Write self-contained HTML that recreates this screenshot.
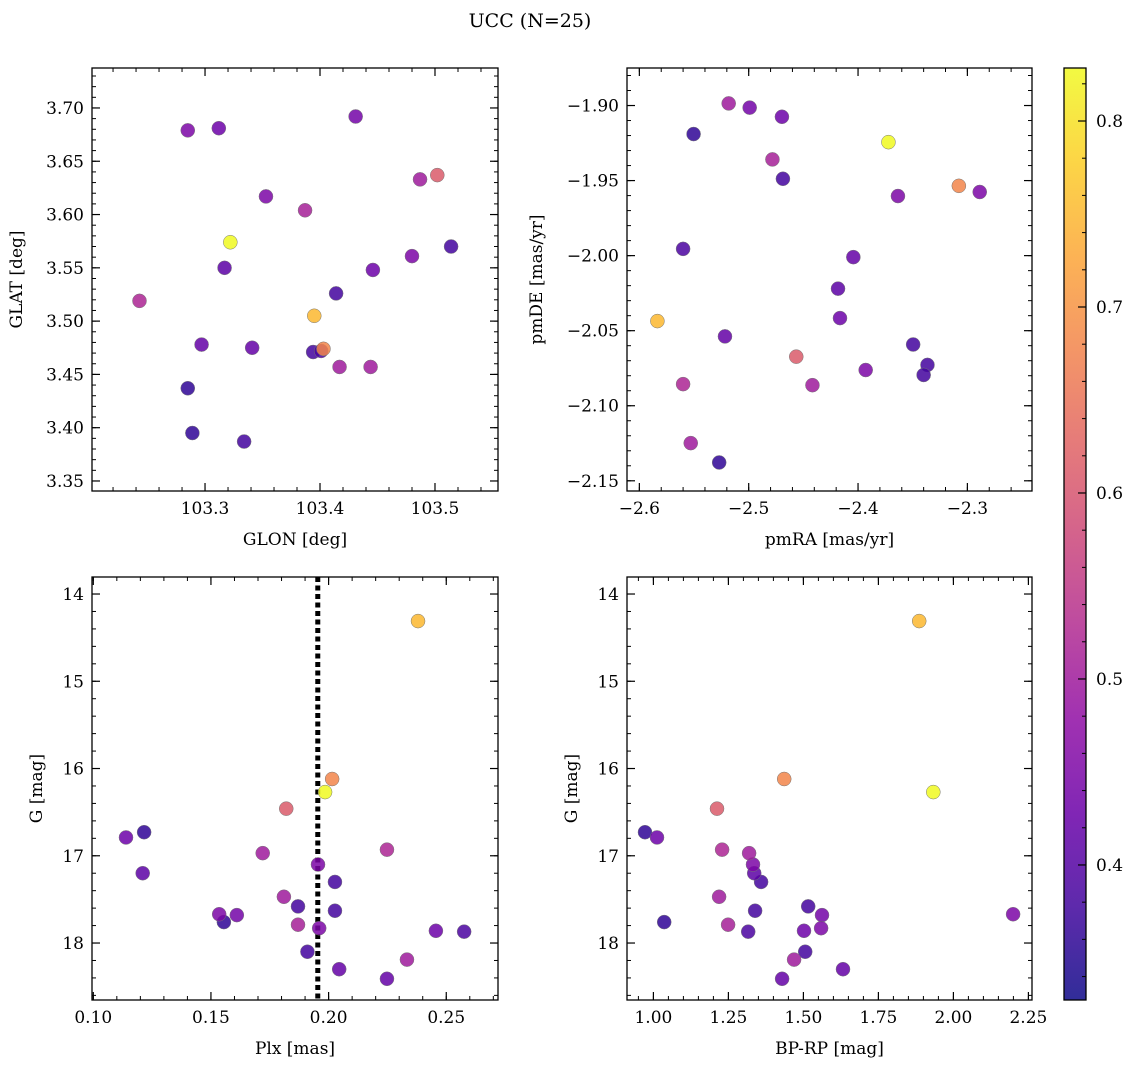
<!DOCTYPE html>
<html><head><meta charset="utf-8">
<style>
body{margin:0;background:#fff}
svg text{font-family:"DejaVu Serif","Liberation Serif",serif;fill:#000}
</style></head>
<body>
<svg id="fig" width="1136" height="1068" viewBox="0 0 1136 1068" xmlns="http://www.w3.org/2000/svg">
<defs>
<linearGradient id="cbgrad" x1="0" y1="1" x2="0" y2="0"></linearGradient>
</defs>
<text x="530" y="27" font-size="19" text-anchor="middle">UCC (N=25)</text>
</svg>
<script>
// ---- data (one entry per star) ----
const prob = [0.75,0.68,0.83,0.61,0.36,0.43,0.52,0.50,0.45,0.41,0.38,0.50,0.38,0.38,0.44,0.45,0.36,0.51,0.45,0.43,0.39,0.38,0.50,0.42,0.42];
const glon = [103.395,103.403,103.322,103.502,103.285,103.312,103.243,103.487,103.285,103.317,103.414,103.417,103.514,103.394,103.431,103.353,103.289,103.387,103.480,103.446,103.401,103.334,103.444,103.297,103.341];
const glat = [3.505,3.474,3.574,3.637,3.437,3.681,3.519,3.633,3.679,3.550,3.526,3.457,3.570,3.471,3.692,3.617,3.395,3.604,3.561,3.548,3.472,3.387,3.457,3.478,3.475];
const pmra = [-2.5835,-2.3078,-2.3722,-2.4565,-2.5504,-2.4696,-2.56,-2.5183,-2.3635,-2.4183,-2.4687,-2.4417,-2.3496,-2.3365,-2.4991,-2.2887,-2.527,-2.4783,-2.393,-2.4165,-2.56,-2.34,-2.553,-2.4043,-2.5217];
const pmde = [-2.0436,-1.9535,-1.9244,-2.0673,-1.919,-1.9075,-2.0856,-1.8986,-1.9603,-2.022,-1.9488,-2.0863,-2.0592,-2.0728,-1.9014,-1.9576,-2.1378,-1.9359,-2.0762,-2.0416,-1.9955,-2.0795,-2.1249,-2.001,-2.0538];
const plx = [0.238,0.2015,0.1985,0.182,0.1216,0.1139,0.2248,0.172,0.1955,0.121,0.2027,0.181,0.187,0.2027,0.161,0.1535,0.1555,0.187,0.196,0.2456,0.2576,0.191,0.2333,0.2045,0.2248];
const gmag = [14.31,16.12,16.27,16.46,16.73,16.79,16.93,16.97,17.10,17.20,17.30,17.47,17.58,17.63,17.68,17.67,17.76,17.79,17.83,17.86,17.87,18.10,18.19,18.30,18.41];
const bprp = [1.886,1.436,1.933,1.212,0.972,1.012,1.229,1.319,1.332,1.336,1.359,1.219,1.516,1.339,1.562,2.199,1.036,1.249,1.559,1.502,1.316,1.506,1.469,1.632,1.429];
const plxLine = 0.1954;
const cbTicks = [0.4,0.5,0.6,0.7,0.8];
const cbRange = [0.3274,0.8285];

const NS="http://www.w3.org/2000/svg";
const svg=document.getElementById('fig');
function mk(tag,attrs,parent){const e=document.createElementNS(NS,tag);for(const k in attrs)e.setAttribute(k,attrs[k]);(parent||svg).appendChild(e);return e;}

const stops=[[0,[13,8,135]],[0.1,[65,4,157]],[0.2,[106,0,168]],[0.3,[143,13,164]],[0.4,[177,42,144]],[0.5,[204,71,120]],[0.6,[225,100,98]],[0.7,[242,132,75]],[0.8,[252,166,54]],[0.9,[252,206,37]],[1,[240,249,33]]];
function plasma(t){t=Math.max(0,Math.min(1,t));for(let i=0;i<stops.length-1;i++){const a=stops[i],b=stops[i+1];if(t<=b[0]){const f=(t-a[0])/(b[0]-a[0]);const c=a[1].map((v,j)=>Math.round(v+(b[1][j]-v)*f));return `rgb(${c[0]},${c[1]},${c[2]})`;}}return 'rgb(240,249,33)';}
function pcol(p){return plasma((p-cbRange[0])/(cbRange[1]-cbRange[0]));}
function fmt(v,d){return (v<0?'\u2212':'')+Math.abs(v).toFixed(d);}

function panel(cfg){
  const g=mk('g',{});
  
  
  const {x0,x1,y0,y1,xa,xb,ya,yb}=cfg;
  const sx=v=>x0+(v-xa)/(xb-xa)*(x1-x0);
  const sy=v=>y1-(v-ya)/(yb-ya)*(y1-y0);
  // ticks
  function ticks(lo,hi,step){const a=[];const l=Math.min(lo,hi),h=Math.max(lo,hi);for(let k=Math.ceil(l/step-1e-6);k*step<=h+1e-9;k++)a.push(+(k*step).toFixed(6));return a;}
  ticks(xa,xb,cfg.xminor).forEach(v=>{const x=sx(v);mk('line',{x1:x,y1:y1,x2:x,y2:y1-4,stroke:'#000','stroke-width':1},g);mk('line',{x1:x,y1:y0,x2:x,y2:y0+4,stroke:'#000','stroke-width':1},g);});
  ticks(ya,yb,cfg.yminor).forEach(v=>{const y=sy(v);mk('line',{x1:x0,y1:y,x2:x0+4,y2:y,stroke:'#000','stroke-width':1},g);mk('line',{x1:x1,y1:y,x2:x1-4,y2:y,stroke:'#000','stroke-width':1},g);});
  ticks(xa,xb,cfg.xmajor).forEach(v=>{const x=sx(v);mk('line',{x1:x,y1:y1,x2:x,y2:y1-8,stroke:'#000','stroke-width':1.2},g);mk('line',{x1:x,y1:y0,x2:x,y2:y0+8,stroke:'#000','stroke-width':1.2},g);
    const t=mk('text',{x:x,y:y1+23,'font-size':17,'text-anchor':'middle'},g);t.textContent=fmt(v,cfg.xdec);
    
    });
  ticks(ya,yb,cfg.ymajor).forEach(v=>{const y=sy(v);mk('line',{x1:x0,y1:y,x2:x0+8,y2:y,stroke:'#000','stroke-width':1.2},g);mk('line',{x1:x1,y1:y,x2:x1-8,y2:y,stroke:'#000','stroke-width':1.2},g);
    const t=mk('text',{x:x0-8,y:y+6,'font-size':17,'text-anchor':'end'},g);t.textContent=fmt(v,cfg.ydec);
    
    });
  if(cfg.vline!==undefined){const l=mk('line',{x1:sx(cfg.vline),y1:y0,x2:sx(cfg.vline),y2:y1,stroke:'#000','stroke-width':5,'stroke-dasharray':'5,3.5'},g);
    
    }
  // points sorted so that higher prob drawn last
  const idx=cfg.xs.map((_,i)=>i).sort((a,b)=>prob[a]-prob[b]);
  idx.forEach(i=>{const c=mk('circle',{cx:sx(cfg.xs[i]),cy:sy(cfg.ys[i]),r:7,fill:pcol(prob[i]),'fill-opacity':0.85,stroke:'#777','stroke-width':0.5},g);
    
    });
  mk('rect',{x:x0,y:y0,width:x1-x0,height:y1-y0,fill:'none',stroke:'#000','stroke-width':1.3},g);
  const xl=mk('text',{x:(x0+x1)/2,y:y1+54,'font-size':17,'text-anchor':'middle'},g);xl.textContent=cfg.xlabel;
  
  
  const yl=mk('text',{x:cfg.ylx,y:(y0+y1)/2,'font-size':17,'text-anchor':'middle',transform:`rotate(-90 ${cfg.ylx} ${(y0+y1)/2})`},g);yl.textContent=cfg.ylabel;
  
  
}

panel({name:'glon-glat-panel',x0:92,x1:498,y0:68,y1:491,xa:103.2017,xb:103.5548,ya:3.3406,yb:3.7375,xmajor:0.1,xminor:0.02,ymajor:0.05,yminor:0.01,xdec:1,ydec:2,xs:glon,ys:glat,xlabel:'GLON [deg]',ylabel:'GLAT [deg]',ylx:22});
panel({name:'pm-panel',x0:627,x1:1032,y0:68,y1:491,xa:-2.6113,xb:-2.2409,ya:-2.1568,yb:-1.875,xmajor:0.1,xminor:0.02,ymajor:0.05,yminor:0.01,xdec:1,ydec:2,xs:pmra,ys:pmde,xlabel:'pmRA [mas/yr]',ylabel:'pmDE [mas/yr]',ylx:542});
panel({name:'plx-g-panel',x0:92,x1:498,y0:577,y1:1000,xa:0.09945,xb:0.27199,ya:18.653,yb:13.805,xmajor:0.05,xminor:0.01,ymajor:1,yminor:0.2,xdec:2,ydec:0,xs:plx,ys:gmag,xlabel:'Plx [mas]',ylabel:'G [mag]',ylx:42,vline:plxLine});
panel({name:'cmd-panel',x0:627,x1:1032,y0:577,y1:1000,xa:0.912,xb:2.262,ya:18.653,yb:13.805,xmajor:0.25,xminor:0.05,ymajor:1,yminor:0.2,xdec:2,ydec:0,xs:bprp,ys:gmag,xlabel:'BP-RP [mag]',ylabel:'G [mag]',ylx:577});

// colorbar
const grad=document.getElementById('cbgrad');
for(let i=0;i<=20;i++){const s=mk('stop',{offset:(i/20),'stop-color':plasma(i/20),'stop-opacity':0.85},grad);}
const cb=mk('g',{});


const cx0=1064,cx1=1086,cy0=68,cy1=1000;
mk('rect',{x:cx0,y:cy0,width:cx1-cx0,height:cy1-cy0,fill:'url(#cbgrad)'},cb);
const cy=v=>cy1-(v-cbRange[0])/(cbRange[1]-cbRange[0])*(cy1-cy0);
for(let k=Math.ceil(cbRange[0]/0.02);k*0.02<=cbRange[1];k++){const y=cy(k*0.02);mk('line',{x1:cx1,y1:y,x2:cx1-4,y2:y,stroke:'#000','stroke-width':1},cb);}
cbTicks.forEach(v=>{const y=cy(v);mk('line',{x1:cx1,y1:y,x2:cx1-8,y2:y,stroke:'#000','stroke-width':1.2},cb);
  const t=mk('text',{x:cx1+10,y:y+6,'font-size':17},cb);t.textContent=v.toFixed(1);
  
  });
mk('rect',{x:cx0,y:cy0,width:cx1-cx0,height:cy1-cy0,fill:'none',stroke:'#000','stroke-width':1.3},cb);
</script>
</body></html>
